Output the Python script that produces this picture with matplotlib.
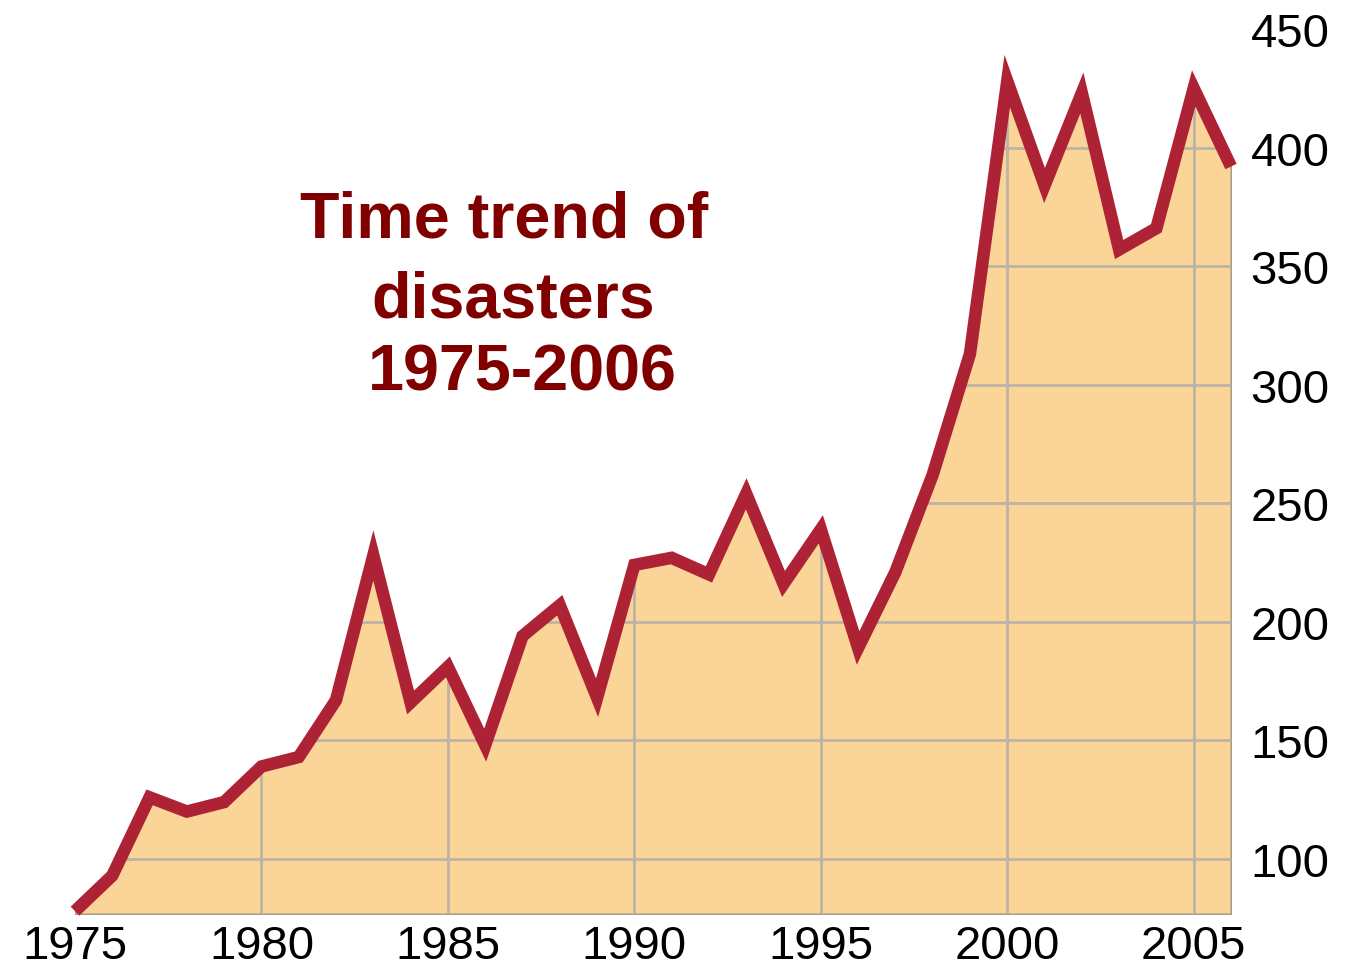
import numpy as np
import matplotlib.pyplot as plt
from matplotlib.patches import PathPatch

# Dane: liczba katastrof w latach 1975-2006
years = list(range(1975, 2007))
disasters = [78, 93, 126, 120, 124, 139, 143, 167, 228, 166, 181, 148, 194, 207, 168, 224,
             227, 220, 254, 216, 239, 189, 221, 262, 313, 428, 384, 423, 357, 366, 425, 392]

x_ticks = [1975, 1980, 1985, 1990, 1995, 2000, 2005]
y_ticks = [100, 150, 200, 250, 300, 350, 400, 450]
title_lines = ["Time trend of", "disasters", "1975-2006"]

line_color = '#AE2236'
fill_color = '#FAD597'
grid_color = '#BDB3A6'
title_color = '#800000'

fig = plt.figure(figsize=(13.61, 9.70), dpi=100)
ax = fig.add_axes([75 / 1361, 55 / 970, 1156 / 1361, 885 / 970])

ymin = 76.8
ax.set_xlim(1975, 2006)
ax.set_ylim(ymin, 450)

# Wypełnienie pod krzywą
fill = ax.fill_between(years, disasters, ymin, facecolor=fill_color,
                       edgecolor='#A89C8C', linewidth=1.5, zorder=1)

# Siatka widoczna tylko wewnątrz wypełnienia
poly_path = fill.get_paths()[0]
clip = PathPatch(poly_path, transform=ax.transData, facecolor='none', edgecolor='none')
ax.add_patch(clip)
for yv in y_ticks:
    gl = ax.axhline(yv, color=grid_color, linewidth=2, zorder=2)
    gl.set_clip_path(clip)
for xv in x_ticks[1:]:
    gl = ax.axvline(xv, color=grid_color, linewidth=2, zorder=2)
    gl.set_clip_path(clip)

ax.plot(years, disasters, color=line_color, linewidth=9,
        solid_joinstyle='miter', solid_capstyle='butt', zorder=3, clip_on=False)

for s in ax.spines.values():
    s.set_visible(False)

ax.set_xticks(x_ticks)
ax.set_yticks(y_ticks)
ax.yaxis.tick_right()
ax.tick_params(axis='both', length=0, labelsize=34, labelcolor='black')
ax.tick_params(axis='x', pad=7)
ax.tick_params(axis='y', pad=14)
for lbl in ax.get_xticklabels() + ax.get_yticklabels():
    lbl.set_fontfamily('Liberation Sans')

# Tytuł wewnątrz wykresu
title_pos = [(504, 221), (513, 300), (522, 374)]
for txt, (px, py) in zip(title_lines, title_pos):
    fig.text(px / 1361, 1 - py / 970, txt, color=title_color, fontsize=46.5,
             fontweight='bold', family='Liberation Sans', ha='center', va='center')

plt.savefig('out.png', dpi=100)
